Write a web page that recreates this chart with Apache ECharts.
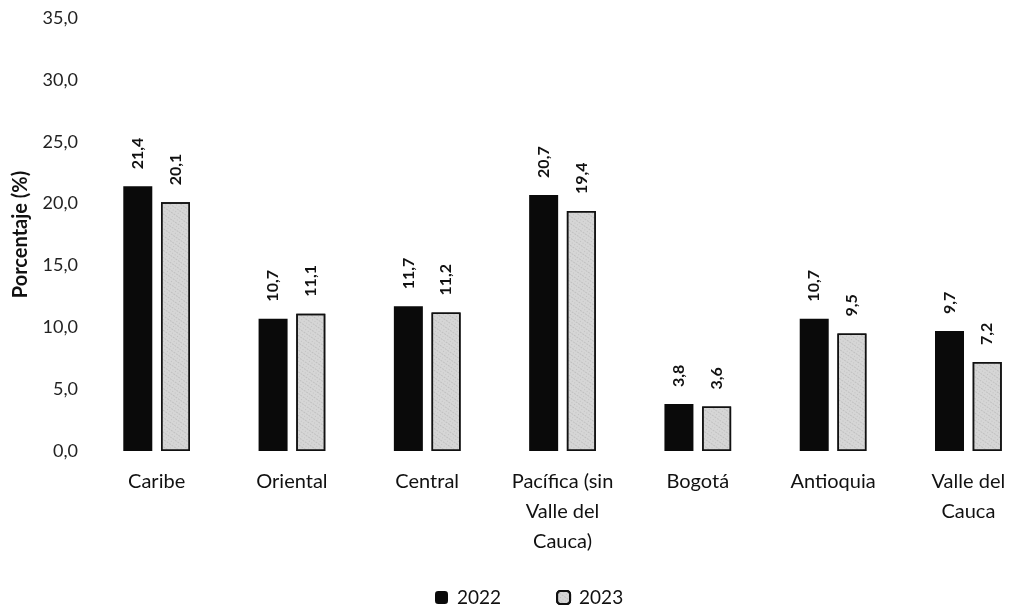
<!DOCTYPE html>
<html>
<head>
<meta charset="utf-8">
<script src="https://cdn.jsdelivr.net/npm/echarts@6/dist/echarts.min.js"></script>
<style>
  html, body { margin: 0; padding: 0; background: #fff; }
  #chart { width: 1012px; height: 608px; }
</style>
</head>
<body>
<div id="chart"></div>
<script>
// category names keep the line breaks used in the original figure
const categories = ['Caribe', 'Oriental', 'Central', 'Pacífica (sin\nValle del\nCauca)', 'Bogotá', 'Antioquia', 'Valle del\nCauca']
const values2022 = [21.4, 10.7, 11.7, 20.7, 3.8, 10.7, 9.7]
const values2023 = [20.1, 11.1, 11.2, 19.4, 3.6, 9.5, 7.2]
const yTicks = [0, 5, 10, 15, 20, 25, 30, 35]

const fmt = (v) => v.toFixed(1).replace('.', ',')
const font = 'Lato, Open Sans, sans-serif'

const valueLabel = {
  show: true,
  position: 'top',
  rotate: 90,
  align: 'left',
  verticalAlign: 'middle',
  distance: 17,
  color: '#111',
  fontFamily: font,
  fontSize: 16,
  fontWeight: 'bold',
  formatter: (p) => fmt(p.value)
}

const chart = echarts.init(document.getElementById('chart'))

chart.setOption({
  animation: false,
  textStyle: { fontFamily: font, color: '#111' },
  grid: { left: 89, right: -24, top: 18, bottom: 157, outerBoundsMode: 'none' },
  legend: {
    top: 583,
    left: 430,
    itemGap: 55,
    itemWidth: 13,
    itemHeight: 13,
    textStyle: { fontFamily: font, fontSize: 19, color: '#111', padding: [0, 0, 0, 4] },
    data: ['2022', '2023']
  },
  xAxis: {
    type: 'category',
    data: categories,
    axisLine: { show: false },
    axisTick: { show: false },
    axisLabel: {
      interval: 0,
      margin: 16,
      fontFamily: font,
      fontSize: 20,
      color: '#111',
      lineHeight: 30
    }
  },
  yAxis: {
    type: 'value',
    min: yTicks[0],
    max: yTicks[yTicks.length - 1],
    interval: 5,
    name: 'Porcentaje (%)',
    nameLocation: 'middle',
    nameGap: 58,
    nameTextStyle: { fontFamily: font, fontSize: 20, fontWeight: 'bold', color: '#111' },
    splitLine: { show: false },
    axisLine: { show: false },
    axisTick: { show: false },
    axisLabel: {
      margin: 11,
      fontFamily: font,
      fontSize: 18,
      color: '#222',
      formatter: (v) => fmt(v)
    }
  },
  series: [
    {
      name: '2022',
      type: 'bar',
      data: values2022,
      barWidth: 29,
      barGap: '30%',
      itemStyle: { color: '#0a0a0a' },
      label: valueLabel
    },
    {
      name: '2023',
      type: 'bar',
      data: values2023,
      barWidth: 29,
      itemStyle: {
        color: '#d6d6d6',
        borderColor: '#111',
        borderWidth: 1.5,
        decal: {
          symbol: 'rect',
          symbolSize: 0.6,
          color: 'rgba(0,0,0,0.35)',
          dashArrayX: [[1, 2], [2, 1]],
          dashArrayY: [1, 2],
          rotation: 0.6
        }
      },
      label: valueLabel
    }
  ]
})
</script>
</body>
</html>
